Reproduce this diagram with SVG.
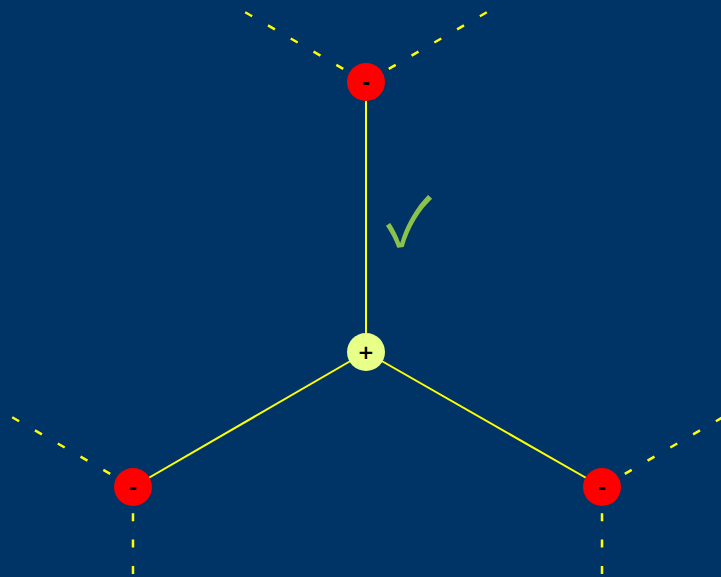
<svg xmlns="http://www.w3.org/2000/svg" width="721" height="577" viewBox="0 0 721 577">
<style>
.bond{stroke:#ffff00;stroke-width:2;fill:none}
.dash{stroke:#ffff00;stroke-width:2.5;fill:none;stroke-dasharray:8 18.3}
.neg circle{fill:#ff0000}
.pos circle{fill:#e8ff88}
.lbl{font-family:"DejaVu Sans",sans-serif;font-weight:bold;font-size:20px;fill:#000;text-anchor:middle}
.chk{font-family:"Noto Sans CJK SC",sans-serif;font-size:67px;fill:#8bc34a}
</style>
<rect width="721" height="577" fill="#003366"/>
<g id="connectors">
<line class="bond" x1="366" y1="82" x2="366" y2="352"/>
<line class="bond" x1="366" y1="352" x2="133" y2="487"/>
<line class="bond" x1="366" y1="352" x2="602" y2="487"/>
<line class="dash" x1="366" y1="82" x2="244.8" y2="12"/>
<line class="dash" x1="366" y1="82" x2="487.2" y2="12"/>
<line class="dash" x1="133" y1="487" x2="11.8" y2="417"/>
<line class="dash" x1="133" y1="487" x2="133" y2="627"/>
<line class="dash" x1="602" y1="487" x2="723.2" y2="417"/>
<line class="dash" x1="602" y1="487" x2="602" y2="627"/>
</g>
<g id="check"><text class="chk" x="386" y="246">✓</text></g>
<g id="n-top" class="neg"><circle cx="366" cy="82" r="19"/><text class="lbl" x="366" y="89">-</text></g>
<g id="n-center" class="pos"><circle cx="366" cy="352" r="19"/><text class="lbl" x="366" y="359">+</text></g>
<g id="n-left" class="neg"><circle cx="133" cy="487" r="19"/><text class="lbl" x="133" y="494">-</text></g>
<g id="n-right" class="neg"><circle cx="602" cy="487" r="19"/><text class="lbl" x="602" y="494">-</text></g>
</svg>
